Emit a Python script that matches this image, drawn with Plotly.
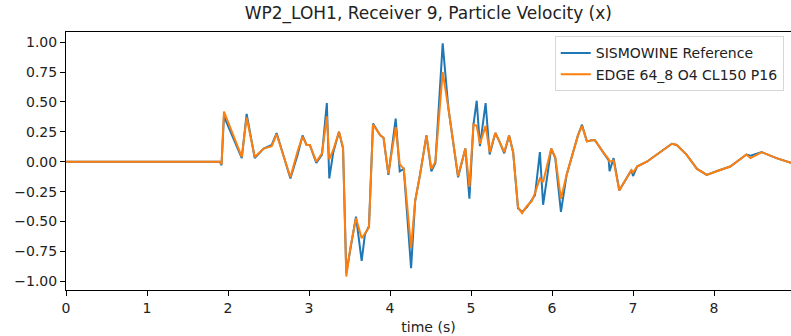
import plotly.graph_objects as go

time_s = [0.00, 1.90, 1.92, 1.95, 2.17, 2.23, 2.33, 2.44, 2.54, 2.60, 2.77, 2.86, 2.92, 2.97,
          3.01, 3.09, 3.16, 3.22, 3.25, 3.30, 3.37, 3.42, 3.46, 3.51, 3.58, 3.65, 3.69, 3.74,
          3.79, 3.88, 3.92, 3.98, 4.07, 4.12, 4.17, 4.26, 4.31, 4.37, 4.45, 4.51, 4.56, 4.65,
          4.72, 4.84, 4.93, 4.98, 5.03, 5.07, 5.11, 5.18, 5.23, 5.30, 5.35, 5.41, 5.47, 5.52,
          5.58, 5.63, 5.69, 5.75, 5.79, 5.85, 5.89, 5.99, 6.04, 6.11, 6.18, 6.26, 6.32, 6.37,
          6.43, 6.49, 6.53, 6.63, 6.70, 6.71, 6.76, 6.83, 6.92, 6.98, 7.00, 7.05, 7.17, 7.29,
          7.48, 7.54, 7.66, 7.79, 7.91, 8.03, 8.20, 8.40, 8.45, 8.59, 8.77, 8.95]

sismowine_ref = [0.00, 0.00, -0.03, 0.38, 0.03, 0.40, 0.03, 0.11, 0.14, 0.24, -0.14, 0.06, 0.22, 0.14,
                 0.14, -0.01, 0.06, 0.49, -0.14, 0.08, 0.25, 0.11, -0.93, -0.72, -0.46, -0.83, -0.61, -0.54,
                 0.32, 0.22, 0.20, -0.11, 0.36, -0.08, -0.06, -0.89, -0.33, -0.11, 0.22, -0.08, -0.01, 0.99,
                 0.45, -0.13, 0.11, -0.31, 0.31, 0.51, 0.13, 0.49, 0.06, 0.24, 0.17, 0.07, 0.22, 0.08,
                 -0.39, -0.42, -0.38, -0.32, -0.28, 0.08, -0.36, 0.11, 0.03, -0.42, -0.11, 0.08, 0.22, 0.31,
                 0.17, 0.18, 0.18, 0.08, 0.01, -0.08, 0.03, -0.24, -0.14, -0.07, -0.12, -0.04, 0.00, 0.06,
                 0.15, 0.14, 0.06, -0.06, -0.11, -0.08, -0.04, 0.06, 0.05, 0.08, 0.03, -0.01]

edge_sim = [0.00, 0.00, -0.02, 0.42, 0.04, 0.37, 0.04, 0.11, 0.13, 0.23, -0.13, 0.09, 0.21, 0.14,
            0.14, 0.00, 0.07, 0.38, 0.02, 0.10, 0.25, 0.12, -0.96, -0.72, -0.47, -0.64, -0.60, -0.55,
            0.31, 0.22, 0.20, -0.10, 0.29, -0.02, -0.06, -0.72, -0.33, -0.11, 0.22, -0.06, 0.00, 0.75,
            0.45, -0.12, 0.11, -0.21, 0.31, 0.30, 0.15, 0.30, 0.08, 0.24, 0.17, 0.08, 0.22, 0.08,
            -0.38, -0.43, -0.37, -0.33, -0.26, -0.14, -0.17, 0.11, 0.04, -0.31, -0.11, 0.08, 0.22, 0.30,
            0.17, 0.18, 0.18, 0.08, 0.02, 0.00, 0.01, -0.24, -0.14, -0.07, -0.09, -0.04, 0.00, 0.06,
            0.15, 0.14, 0.06, -0.06, -0.11, -0.08, -0.04, 0.06, 0.03, 0.08, 0.03, -0.01]

x_ticks = [0, 1, 2, 3, 4, 5, 6, 7, 8]
y_ticks = [-1.0, -0.75, -0.5, -0.25, 0.0, 0.25, 0.5, 0.75, 1.0]

FONT = "DejaVu Sans"
TXT = "#222222"

fig = go.Figure()
fig.add_trace(go.Scatter(x=time_s, y=sismowine_ref, mode="lines", name="SISMOWINE Reference",
                         line=dict(color="#1f77b4", width=2)))
fig.add_trace(go.Scatter(x=time_s, y=edge_sim, mode="lines", name="EDGE 64_8 O4 CL150 P16",
                         line=dict(color="#ff7f0e", width=2)))

fig.update_layout(
    width=791, height=336,
    margin=dict(l=66, r=0, t=32, b=46),
    paper_bgcolor="white", plot_bgcolor="white",
    font=dict(family=FONT, size=14, color=TXT),
    title=dict(text="WP2_LOH1, Receiver 9, Particle Velocity (x)", x=0.5415, xanchor="center",
               y=0.96, yanchor="middle", font=dict(size=17, family=FONT, color=TXT)),
    showlegend=True,
    legend=dict(x=0.99, xanchor="right", y=0.983, yanchor="top",
                bgcolor="rgba(255,255,255,0.8)", bordercolor="#d6d6d6", borderwidth=1,
                font=dict(size=14, family=FONT, color=TXT)),
    xaxis=dict(range=[0, 8.95], tickmode="array", tickvals=x_ticks,
               showline=True, linecolor="black", linewidth=1, mirror=True,
               ticks="outside", ticklen=5, tickcolor="black", showgrid=False, zeroline=False,
               title=dict(text="time (s)", standoff=7, font=dict(size=14, family=FONT, color=TXT))),
    yaxis=dict(range=[-1.073, 1.085], tickmode="array", tickvals=y_ticks, tickformat=".2f",
               showline=True, linecolor="black", linewidth=1, mirror=True,
               ticks="outside", ticklen=5, tickcolor="black", showgrid=False, zeroline=False),
)

fig.write_html("out.html")
